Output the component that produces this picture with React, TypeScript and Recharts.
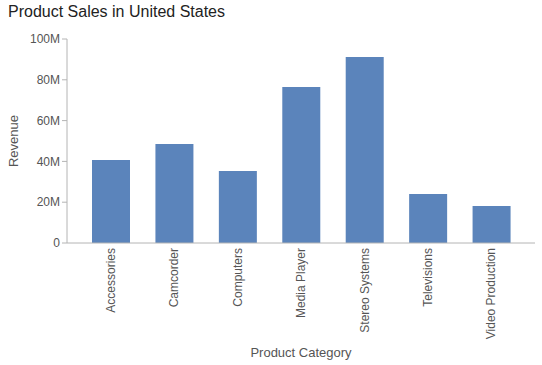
import React from 'react';
import { BarChart, Bar, XAxis, YAxis } from 'recharts';

const categories = ['Accessories', 'Camcorder', 'Computers', 'Media Player', 'Stereo Systems', 'Televisions', 'Video Production'];
const revenue = [40700000, 48500000, 35300000, 76500000, 91200000, 24000000, 18100000];
const yTicks = [0, 20000000, 40000000, 60000000, 80000000, 100000000];

const data = categories.map((c, i) => ({ category: c, revenue: revenue[i] }));

const FONT = '"Liberation Sans", Arial, sans-serif';
const TEXT = '#555';
const AXIS = '#b4b4b4';

const XTick = (props: any) => {
  const { x, y, payload } = props;
  return (
    <text
      x={x}
      y={y}
      dy="0.35em"
      transform={`rotate(-90, ${x}, ${y})`}
      textAnchor="end"
      fontSize={12}
      fontFamily={FONT}
      fill={TEXT}
    >
      {payload.value}
    </text>
  );
};

const YLabel = (props: any) => {
  const vb = props.viewBox || {};
  const cx = 18;
  const cy = vb.y + vb.height / 2;
  return (
    <text x={cx} y={cy} transform={`rotate(-90, ${cx}, ${cy})`} textAnchor="middle" fontSize={13} fontFamily={FONT} fill={TEXT}>
      Revenue
    </text>
  );
};

const XLabel = (props: any) => {
  const vb = props.viewBox || {};
  return (
    <text x={vb.x + vb.width / 2} y={vb.y + 114} textAnchor="middle" fontSize={13} fontFamily={FONT} fill={TEXT}>
      Product Category
    </text>
  );
};

export default function App() {
  return (
    <div style={{ position: 'absolute', left: 0, top: 0, width: 542, height: 365, background: '#fff' }}>
      <div
        style={{
          position: 'absolute',
          left: 8,
          top: 3,
          fontFamily: FONT,
          fontSize: 16,
          color: '#222',
          whiteSpace: 'nowrap',
        }}
      >
        Product Sales in United States
      </div>
      <BarChart
        width={542}
        height={365}
        data={data}
        margin={{ top: 39, right: 7, left: 0, bottom: 0 }}
      >
        <XAxis
          dataKey="category"
          height={122}
          padding={{ left: 12, right: 12 }}
          tickLine={false}
          tickSize={0}
          tickMargin={5}
          interval={0}
          stroke={AXIS}
          tick={<XTick />}
          label={<XLabel />}
        />
        <YAxis
          width={67}
          domain={[0, 100000000]}
          ticks={yTicks}
          tickSize={5}
          tickMargin={2}
          stroke={AXIS}
          tick={{ fill: TEXT, fontSize: 12, fontFamily: FONT }}
          tickFormatter={(v: number) => (v === 0 ? '0' : `${v / 1000000}M`)}
          label={<YLabel />}
        />
        <Bar dataKey="revenue" fill="#5b84bb" barSize={38} isAnimationActive={false} />
      </BarChart>
    </div>
  );
}
